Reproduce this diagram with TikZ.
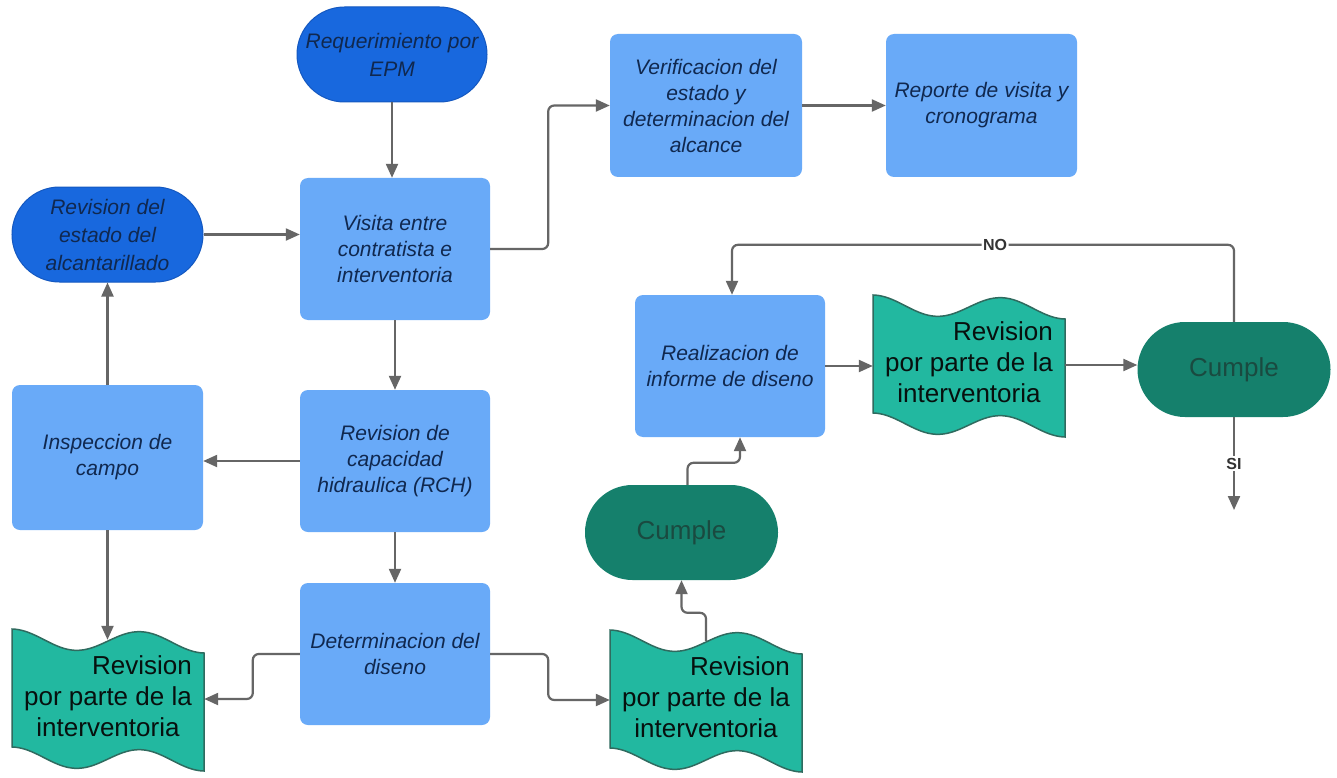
\documentclass[tikz,border=0pt]{standalone}
\usepackage{fontspec}
\setmainfont{Liberation Sans}
\usetikzlibrary{arrows.meta,shapes.misc}
\definecolor{pillblue}{HTML}{1868DE}
\definecolor{pillline}{HTML}{1458C0}
\definecolor{boxblue}{HTML}{69AAF8}
\definecolor{navy}{HTML}{10284F}
\definecolor{docfill}{HTML}{22B8A0}
\definecolor{docline}{HTML}{2F6B5F}
\definecolor{cumplefill}{HTML}{15806C}
\definecolor{cumpletext}{HTML}{1A4A40}
\definecolor{conngray}{HTML}{666666}
\tikzset{
  box/.style={rectangle, rounded corners=8pt, fill=boxblue, draw=none, text=navy,
    font=\fontsize{21}{26}\selectfont\itshape, align=center,
    minimum width=190pt, minimum height=142pt, inner sep=0pt},
  pill/.style={rounded rectangle, fill=pillblue, draw=pillline, line width=1pt, text=navy,
    font=\fontsize{21}{28}\selectfont\itshape, align=center,
    minimum width=190pt, minimum height=95pt, inner sep=0pt},
  cumple/.style={rounded rectangle, fill=cumplefill, draw=none, text=cumpletext,
    font=\fontsize{26}{31}\selectfont, minimum width=193pt, minimum height=95pt, inner sep=0pt},
  doctext/.style={draw=none, text=black!85!docline, font=\fontsize{26}{31}\selectfont,
    minimum width=192pt, minimum height=118pt, inner sep=0pt},
  docshape/.style={fill=docfill, draw=docline, line width=1.5pt},
  conn/.style={draw=conngray, line width=2.2pt, -{Triangle[length=14pt,width=12pt]}},
  lbl/.style={fill=white, text=black!80, font=\fontsize{16}{18}\selectfont\bfseries, inner sep=1.5pt},
}
\newcommand{\wdoc}[3]{%
  \path[docshape] plot[domain=0:540, samples=60, variable=\t] ({#1+\t/540*192},{#2+10-10*cos(\t)+\t/540*4})
    -- plot[domain=540:0, samples=60, variable=\t] ({#1+\t/540*192},{#2+128-10*cos(\t)+\t/540*4}) -- cycle;
  \node[doctext] (#3) at ({#1+96},{#2+70}) {\begin{tabular}{@{}c@{}}\multicolumn{1}{@{}r@{}}{Revision}\\ por parte de la\\ interventoria\end{tabular}};
}
\begin{document}
\begin{tikzpicture}[x=1pt,y=-1pt]
\useasboundingbox[fill=white] (0,0) rectangle (1337,778);

% nodes
\node[pill] (req) at (392,54.5) {Requerimiento por\\EPM};
\node[box] (vis) at (395,249) {Visita entre\\contratista e\\interventoria};
\node[pill, minimum width=191pt] (rev) at (107.5,234.5) {Revision del\\estado del\\alcantarillado};
\node[box, minimum width=191pt, minimum height=145pt] (insp) at (107.5,457.5) {Inspeccion de\\campo};
\node[box] (rch) at (395,461) {Revision de\\capacidad\\hidraulica (RCH)};
\node[box] (det) at (395,654) {Determinacion del\\diseno};
\node[box, minimum width=192pt, minimum height=143pt] (ver) at (706,105.5) {Verificacion del\\estado y\\determinacion del\\alcance};
\node[box, minimum width=191pt, minimum height=143pt] (rep) at (981.5,105.5) {Reporte de visita y\\cronograma};
\node[box] (real) at (730,366) {Realizacion de\\informe de diseno};
\node[cumple] (c1) at (681.5,532.5) {Cumple};
\node[cumple] (c2) at (1234,369.5) {Cumple};

\wdoc{12}{629}{d1}
\wdoc{610}{630}{d2}
\wdoc{873}{295}{d3}

\coordinate (siend) at (1234,510);

% connectors
\draw[conn] (req.south) -- (req.south |- vis.north);
\draw[conn] (rev.east) -- (rev.east -| vis.west);
\draw[conn] (insp.north) -- (rev.south);
\draw[conn] (rch.west) -- (rch.west -| insp.east);
\draw[conn, rounded corners=6pt] (vis.east) -- ++(58,0) |- (ver.west);
\draw[conn] (ver) -- (rep);
\draw[conn] (vis) -- (rch);
\draw[conn] (rch) -- (det);
\draw[conn] (insp.south) -- (insp.south |- d1.north);
\draw[conn, rounded corners=6pt] (det.west) -- ++(-47,0) |- (d1.east);
\draw[conn, rounded corners=6pt] (det.east) -- ++(58,0) |- (d2.west);
\draw[conn, rounded corners=6pt] (d2.north) -- ++(0,-28) -| (c1.south);
\draw[conn, rounded corners=6pt] ([xshift=6pt]c1.north) -- ++(0,-22) -| ([xshift=10pt]real.south);
\draw[conn] (real.east) -- (real.east -| d3.west);
\draw[conn] (d3.east) -- (d3.east -| c2.west);
\draw[conn, rounded corners=6pt] (c2.north) -- ++(0,-77) -| node[lbl, pos=0.238] {NO} ([xshift=2pt]real.north);
\draw[conn] (c2.south) -- node[lbl] {SI} (siend);
\end{tikzpicture}
\end{document}
